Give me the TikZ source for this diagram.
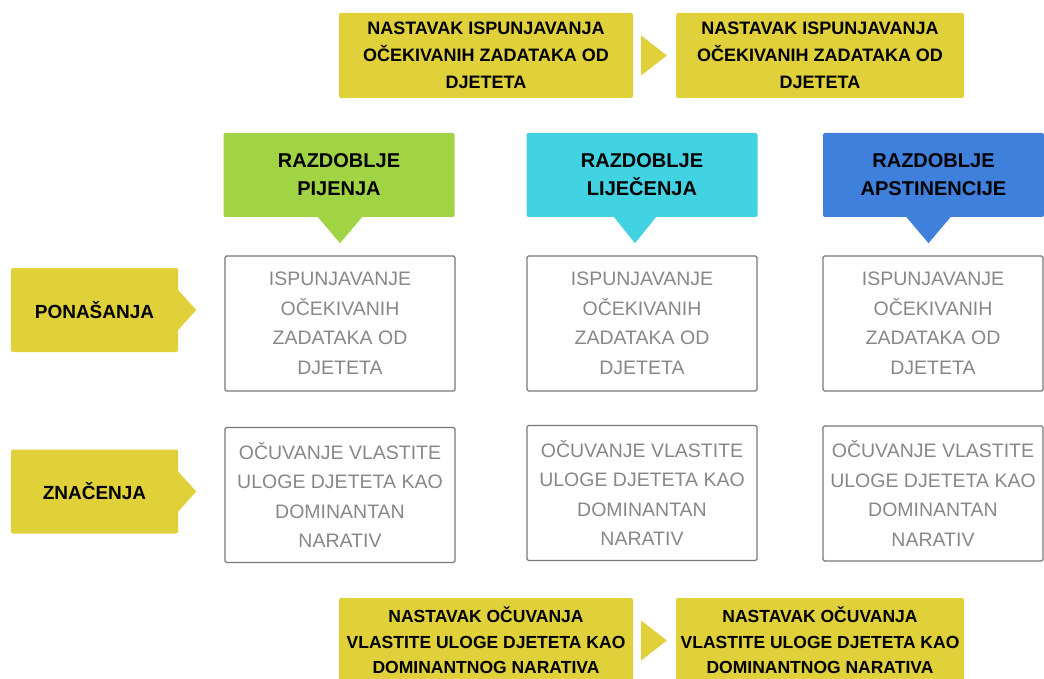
\documentclass[tikz,border=0pt]{standalone}
\usepackage{fontspec}
\setmainfont{Liberation Sans}
\usetikzlibrary{positioning, calc}

\definecolor{goalyellow}{RGB}{224,208,58}
\definecolor{drinkgreen}{RGB}{160,212,68}
\definecolor{treatcyan}{RGB}{66,211,226}
\definecolor{abstblue}{RGB}{64,128,221}
\definecolor{cellgray}{RGB}{120,120,120}
\definecolor{textgray}{RGB}{135,135,135}

\begin{document}
\begin{tikzpicture}[
  x=1pt, y=-1pt,
  goal/.style={fill=goalyellow, rounded corners=2pt, inner sep=0pt, minimum width=294pt, minimum height=85pt, align=center, font=\bfseries\fontsize{18}{27}\selectfont},
  phase/.style={rounded corners=2pt, inner sep=0pt, minimum width=231pt, minimum height=84pt, align=center, font=\bfseries\fontsize{20}{28}\selectfont},
  aspect/.style={fill=goalyellow, rounded corners=2pt, inner sep=0pt, minimum width=167pt, minimum height=84pt, font=\bfseries\fontsize{19}{23}\selectfont},
  cell/.style={draw=cellgray, line width=1.3pt, rounded corners=1.5pt, inner sep=0pt, minimum width=230pt, minimum height=135pt, align=center, text=textgray, font=\fontsize{19.5}{29.5}\selectfont}
]
  \useasboundingbox (0,0) rectangle (1044,679);

  % continuation goals, top
  \node[goal] (goaltop1) at (486,55.5) {NASTAVAK ISPUNJAVANJA\\OČEKIVANIH ZADATAKA OD\\DJETETA};
  \node[goal, minimum width=288pt] (goaltop2) at (820,55.5) {NASTAVAK ISPUNJAVANJA\\OČEKIVANIH ZADATAKA OD\\DJETETA};
  \fill[goalyellow] ([xshift=8pt, yshift=20pt]goaltop1.east) -- ([xshift=-9pt]goaltop2.west) -- ([xshift=8pt, yshift=-20pt]goaltop1.east) -- cycle;

  % periods
  \node[phase, fill=drinkgreen] (drink) at (339,175) {RAZDOBLJE\\PIJENJA};
  \node[phase, fill=treatcyan] (treat) at (642,175) {RAZDOBLJE\\LIJEČENJA};
  \node[phase, fill=abstblue, minimum width=221pt] (abst) at (933.5,175) {RAZDOBLJE\\APSTINENCIJE};
  \fill[drinkgreen] ([xshift=-21pt]drink.south) -- ([xshift=1pt, yshift=-26pt]drink.south) -- ([xshift=23pt]drink.south) -- cycle;
  \fill[treatcyan] ([xshift=-28pt]treat.south) -- ([xshift=-7pt, yshift=-26pt]treat.south) -- ([xshift=14pt]treat.south) -- cycle;
  \fill[abstblue] ([xshift=-27pt]abst.south) -- ([xshift=-5pt, yshift=-26pt]abst.south) -- ([xshift=17pt]abst.south) -- cycle;

  % aspects
  \node[aspect] (behave) at (94.5,310) {PONAŠANJA};
  \node[aspect] (meaning) at (94.5,491.5) {ZNAČENJA};
  \fill[goalyellow] ([yshift=20pt]behave.east) -- ([xshift=18pt]behave.east) -- ([yshift=-20pt]behave.east) -- cycle;
  \fill[goalyellow] ([yshift=20pt]meaning.east) -- ([xshift=18pt]meaning.east) -- ([yshift=-20pt]meaning.east) -- cycle;

  % cells
  \node[cell] (behdrink) at (340,323.5) {ISPUNJAVANJE\\OČEKIVANIH\\ZADATAKA OD\\DJETETA};
  \node[cell] (behtreat) at (642,323.5) {ISPUNJAVANJE\\OČEKIVANIH\\ZADATAKA OD\\DJETETA};
  \node[cell, minimum width=220pt] (behabst) at (933,323.5) {ISPUNJAVANJE\\OČEKIVANIH\\ZADATAKA OD\\DJETETA};
  \node[cell] (meandrink) at (340,495) {OČUVANJE VLASTITE\\ULOGE DJETETA KAO\\DOMINANTAN\\NARATIV};
  \node[cell] (meantreat) at (642,493) {OČUVANJE VLASTITE\\ULOGE DJETETA KAO\\DOMINANTAN\\NARATIV};
  \node[cell, minimum width=220pt] (meanabst) at (933,493.5) {OČUVANJE VLASTITE\\ULOGE DJETETA KAO\\DOMINANTAN\\NARATIV};

  % continuation goals, bottom
  \node[goal, font=\bfseries\fontsize{17.5}{25.5}\selectfont] (goalbot1) at (486,640.5) {NASTAVAK OČUVANJA\\VLASTITE ULOGE DJETETA KAO\\DOMINANTNOG NARATIVA};
  \node[goal, minimum width=288pt, font=\bfseries\fontsize{17.5}{25.5}\selectfont] (goalbot2) at (820,640.5) {NASTAVAK OČUVANJA\\VLASTITE ULOGE DJETETA KAO\\DOMINANTNOG NARATIVA};
  \fill[goalyellow] ([xshift=8pt, yshift=20pt]goalbot1.east) -- ([xshift=-9pt]goalbot2.west) -- ([xshift=8pt, yshift=-20pt]goalbot1.east) -- cycle;
\end{tikzpicture}
\end{document}
